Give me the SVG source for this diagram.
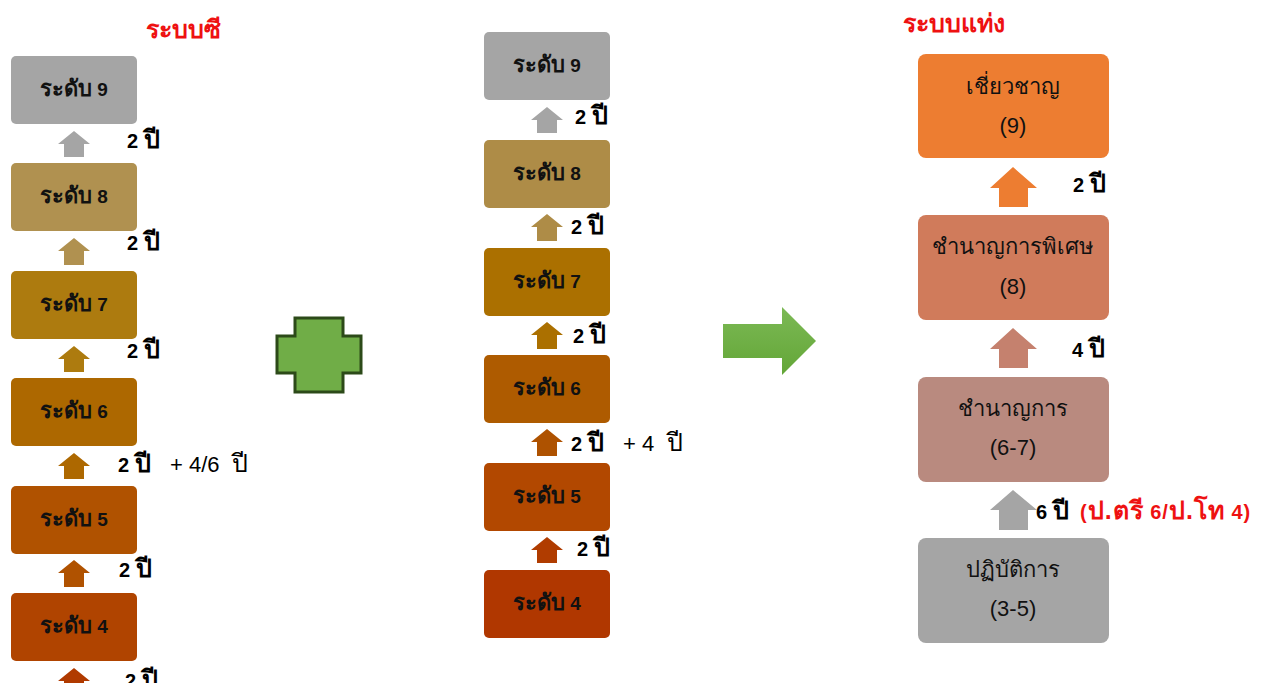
<svg xmlns="http://www.w3.org/2000/svg" width="1268" height="683" viewBox="0 0 1268 683">
  <style>
    .lvl { font-family: "Liberation Sans", "Noto Sans", sans-serif; font-weight: bold; font-size: 19px; fill: #111; text-anchor: middle; }
    .lvl .th { font-size: 22px; }
    .yr { font-family: "Liberation Sans", "Noto Sans", sans-serif; font-weight: bold; font-size: 20px; fill: #000; }
    .yr .th { font-size: 25px; }
    .yrn { font-weight: normal; font-size: 22px; }
    .ttl { font-family: "Liberation Serif", serif; font-weight: bold; font-size: 25px; fill: #ee1111; }
    .pos { font-family: "Liberation Sans", "Noto Sans", sans-serif; font-size: 22px; fill: #111; text-anchor: middle; }
    .red { fill: #ee1111; letter-spacing: 1px; }
  </style>
  <defs>
    <linearGradient id="greenGrad" x1="0" y1="0" x2="0" y2="1">
      <stop offset="0" stop-color="#7cb955"/>
      <stop offset="1" stop-color="#63a637"/>
    </linearGradient>
  </defs>

  <!-- titles -->
  <text class="ttl" x="183" y="38" text-anchor="middle">ระบบซี</text>
  <text class="ttl" x="903" y="32">ระบบแท่ง</text>

  <!-- C-system column -->
  <g id="c-levels">
    <g id="c9"><rect x="11" y="56" width="126" height="68" rx="5" fill="#a5a5a5"/><text class="lvl" x="74" y="96"><tspan class="th">ระดับ</tspan> 9</text></g>
    <g id="c8"><rect x="11" y="163" width="126" height="68" rx="5" fill="#b09150"/><text class="lvl" x="74" y="203"><tspan class="th">ระดับ</tspan> 8</text></g>
    <g id="c7"><rect x="11" y="271" width="126" height="68" rx="5" fill="#ad7b0f"/><text class="lvl" x="74" y="311"><tspan class="th">ระดับ</tspan> 7</text></g>
    <g id="c6"><rect x="11" y="378" width="126" height="68" rx="5" fill="#ad6800"/><text class="lvl" x="74" y="418"><tspan class="th">ระดับ</tspan> 6</text></g>
    <g id="c5"><rect x="11" y="486" width="126" height="68" rx="5" fill="#b05200"/><text class="lvl" x="74" y="526"><tspan class="th">ระดับ</tspan> 5</text></g>
    <g id="c4"><rect x="11" y="593" width="126" height="68" rx="5" fill="#b04400"/><text class="lvl" x="74" y="633"><tspan class="th">ระดับ</tspan> 4</text></g>
  </g>

  <!-- middle column -->
  <g id="m-levels">
    <g id="m9"><rect x="484" y="32" width="126" height="68" rx="5" fill="#a5a5a5"/><text class="lvl" x="547" y="72"><tspan class="th">ระดับ</tspan> 9</text></g>
    <g id="m8"><rect x="484" y="140" width="126" height="68" rx="5" fill="#ae8c47"/><text class="lvl" x="547" y="180"><tspan class="th">ระดับ</tspan> 8</text></g>
    <g id="m7"><rect x="484" y="248" width="126" height="68" rx="5" fill="#ab7000"/><text class="lvl" x="547" y="288"><tspan class="th">ระดับ</tspan> 7</text></g>
    <g id="m6"><rect x="484" y="355" width="126" height="68" rx="5" fill="#ae5b00"/><text class="lvl" x="547" y="395"><tspan class="th">ระดับ</tspan> 6</text></g>
    <g id="m5"><rect x="484" y="463" width="126" height="68" rx="5" fill="#b24800"/><text class="lvl" x="547" y="503"><tspan class="th">ระดับ</tspan> 5</text></g>
    <g id="m4"><rect x="484" y="570" width="126" height="68" rx="5" fill="#b03700"/><text class="lvl" x="547" y="610"><tspan class="th">ระดับ</tspan> 4</text></g>
  </g>

  <!-- position-type column -->
  <g id="p-levels">
    <g id="p9"><rect x="918" y="54" width="191" height="104" rx="8" fill="#ed7d31"/><text class="pos" x="1013" y="94">เชี่ยวชาญ</text><text class="pos" x="1013" y="133">(9)</text></g>
    <g id="p8"><rect x="918" y="215" width="191" height="105" rx="8" fill="#d07b5b"/><text class="pos" x="1013" y="254">ชำนาญการพิเศษ</text><text class="pos" x="1013" y="294">(8)</text></g>
    <g id="p67"><rect x="918" y="377" width="191" height="105" rx="8" fill="#b98a7f"/><text class="pos" x="1013" y="416">ชำนาญการ</text><text class="pos" x="1013" y="455">(6-7)</text></g>
    <g id="p35"><rect x="918" y="538" width="191" height="105" rx="8" fill="#a5a5a5"/><text class="pos" x="1013" y="577">ปฏิบัติการ</text><text class="pos" x="1013" y="616">(3-5)</text></g>
  </g>

  <!-- plus sign -->
  <g id="plus">
    <path d="M295 318 H343 V336 H361 V373 H343 V392 H295 V373 H277 V336 H295 Z" fill="#70ad47" stroke="#2c4a19" stroke-width="3"/>
  </g>

  <!-- step arrows -->
  <g id="connectors">
    <!-- C column -->
    <path d="M74 131 L90 144 L84 144 L84 157 L64 157 L64 144 L58 144 Z" fill="#a5a5a5"/>
    <path d="M74 238 L90 251 L84 251 L84 265 L64 265 L64 251 L58 251 Z" fill="#b09150"/>
    <path d="M74 346 L90 359 L84 359 L84 372 L64 372 L64 359 L58 359 Z" fill="#ad7b0f"/>
    <path d="M74 453 L90 466 L84 466 L84 479 L64 479 L64 466 L58 466 Z" fill="#ad6800"/>
    <path d="M74 560 L90 573 L84 573 L84 587 L64 587 L64 573 L58 573 Z" fill="#b05200"/>
    <path d="M74 668 L90 681 L84 681 L84 695 L64 695 L64 681 L58 681 Z" fill="#b03a00"/>
    <!-- middle column -->
    <path d="M547 107 L563 120 L557 120 L557 133 L537 133 L537 120 L531 120 Z" fill="#a5a5a5"/>
    <path d="M547 214 L563 227 L557 227 L557 241 L537 241 L537 227 L531 227 Z" fill="#ae8c47"/>
    <path d="M547 322 L563 335 L557 335 L557 349 L537 349 L537 335 L531 335 Z" fill="#ab7000"/>
    <path d="M547 429 L563 442 L557 442 L557 456 L537 456 L537 442 L531 442 Z" fill="#ae5200"/>
    <path d="M547 537 L563 550 L557 550 L557 563 L537 563 L537 550 L531 550 Z" fill="#b03c00"/>
    <!-- position column -->
    <path d="M1013 167 L1037 188 L1028 188 L1028 207 L999 207 L999 188 L990 188 Z" fill="#ed7d31"/>
    <path d="M1013 328 L1037 349 L1028 349 L1028 368 L999 368 L999 349 L990 349 Z" fill="#c5816e"/>
    <path d="M1013 490 L1037 510 L1028 510 L1028 530 L999 530 L999 510 L990 510 Z" fill="#a5a5a5"/>
    <!-- big green arrow -->
    <path d="M723 324 L782 324 L782 307 L816 341 L782 375 L782 358 L723 358 Z" fill="url(#greenGrad)"/>
  </g>

  <!-- year labels -->
  <g id="labels">
    <text class="yr" x="127" y="148">2 <tspan class="th">ปี</tspan></text>
    <text class="yr" x="127" y="250">2 <tspan class="th">ปี</tspan></text>
    <text class="yr" x="127" y="358">2 <tspan class="th">ปี</tspan></text>
    <text class="yr" x="118" y="472">2 <tspan class="th">ปี</tspan><tspan class="yrn" x="170">+ 4/6</tspan><tspan class="th yrn" x="232" font-size="25">ปี</tspan></text>
    <text class="yr" x="119" y="577">2 <tspan class="th">ปี</tspan></text>
    <text class="yr" x="125" y="688">2 <tspan class="th">ปี</tspan></text>

    <text class="yr" x="575" y="124">2 <tspan class="th">ปี</tspan></text>
    <text class="yr" x="571" y="234">2 <tspan class="th">ปี</tspan></text>
    <text class="yr" x="573" y="343">2 <tspan class="th">ปี</tspan></text>
    <text class="yr" x="571" y="451">2 <tspan class="th">ปี</tspan><tspan class="yrn" x="623">+ 4</tspan><tspan class="th yrn" x="667" font-size="25">ปี</tspan></text>
    <text class="yr" x="577" y="556">2 <tspan class="th">ปี</tspan></text>

    <text class="yr" x="1073" y="192">2 <tspan class="th">ปี</tspan></text>
    <text class="yr" x="1072" y="357">4 <tspan class="th">ปี</tspan></text>
    <text class="yr" x="1036" y="519">6 <tspan class="th">ปี</tspan><tspan class="red" x="1080">(<tspan class="th">ป.ตรี</tspan> 6/<tspan class="th">ป.โท</tspan> 4)</tspan></text>
  </g>
</svg>
